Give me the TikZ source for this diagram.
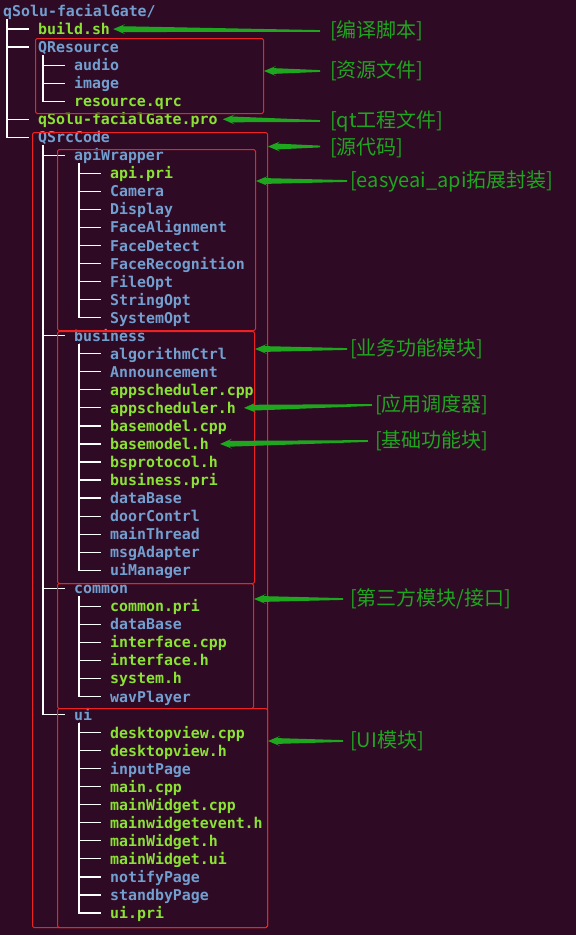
\documentclass[tikz,border=0pt]{standalone}
\usepackage{fontspec}
\setmonofont{DejaVu Sans Mono}
\newfontfamily\cjkfont{Noto Sans CJK SC}
\usetikzlibrary{arrows.meta, positioning, calc}
\definecolor{termbg}{HTML}{2E0A24}
\definecolor{dirblue}{HTML}{729FCF}
\definecolor{filegreen}{HTML}{8AE234}
\definecolor{boxred}{HTML}{EE2222}
\definecolor{notegreen}{HTML}{1FA61F}
% flecha afilada: cola fina, cabeza triangular
\newcommand{\taperarrow}[2]{%
  \coordinate (ta-tail) at (#1);
  \coordinate (ta-tip) at (#2);
  \coordinate (ta-head) at ($(ta-tip)!12pt!(ta-tail)$);
  \coordinate (ta-neck) at ($(ta-tip)!9pt!(ta-tail)$);
  \fill[notegreen] (ta-tip) -- ($(ta-head)!5pt!90:(ta-tail)$) -- ($(ta-neck)!2.9pt!90:(ta-tail)$)
    -- ($(ta-tail)!0.9pt!-90:(ta-tip)$) -- ($(ta-tail)!0.9pt!90:(ta-tip)$)
    -- ($(ta-neck)!2.9pt!-90:(ta-tail)$) -- ($(ta-head)!5pt!-90:(ta-tail)$) -- cycle;
}

\begin{document}
\begin{tikzpicture}[
    x=1pt, y=-1pt,
    entry/.style={anchor=west, inner sep=0pt, text height=11pt, text depth=0pt, font=\ttfamily\bfseries\fontsize{14.9}{18}\selectfont},
    dir/.style={entry, text=dirblue},
    file/.style={entry, text=filegreen},
    branch/.style={draw=white, line width=1.2pt},
    redbox/.style={draw=boxred, line width=1pt, rounded corners=1.5pt, inner sep=0pt, anchor=north west},
    note/.style={anchor=west, inner sep=0pt, text=notegreen, font=\cjkfont\fontsize{20}{24}\selectfont}
  ]
    % fondo terminal
    \fill[termbg] (0,0) rectangle (576,935);
    \useasboundingbox (0,0) rectangle (576,935);

    % raiz y primer nivel
    \node[dir] (root) at (3,11) {qSolu-facialGate/};
    \foreach \nm/\txt/\sty/\k in {build/build.sh/file/1, qres/QResource/dir/2, pro/qSolu-facialGate.pro/file/6, src/QSrcCode/dir/7} {
      \node[\sty] (\nm) at (38, {11+18.04*\k}) {\txt};
      \draw[branch] ([shift={(4pt,-8pt)}]root.west) |- ([xshift=-9pt]\nm.west);
    }

    % QResource
    \foreach \nm/\txt/\sty/\k in {audio/audio/dir/3, image/image/dir/4, qrc/resource.qrc/file/5} {
      \node[\sty] (\nm) at (74, {11+18.04*\k}) {\txt};
      \draw[branch] ([shift={(5pt,-8pt)}]qres.west) |- ([xshift=-9pt]\nm.west);
    }

    % QSrcCode
    \foreach \nm/\txt/\k in {api/apiWrapper/8, biz/business/18, com/common/32, ui/ui/39} {
      \node[dir] (\nm) at (74, {11+18.04*\k}) {\txt};
      \draw[branch] ([shift={(5pt,-8pt)}]src.west) |- ([xshift=-9pt]\nm.west);
    }

    % apiWrapper
    \foreach \nm/\txt/\sty [count=\k from 9] in {apiPri/api.pri/file, camera/Camera/dir, display/Display/dir,
        faceAlign/FaceAlignment/dir, faceDet/FaceDetect/dir, faceRec/FaceRecognition/dir,
        fileOpt/FileOpt/dir, strOpt/StringOpt/dir, sysOpt/SystemOpt/dir} {
      \node[\sty] (\nm) at (110, {11+18.04*\k}) {\txt};
      \draw[branch] ([shift={(5pt,-8pt)}]api.west) |- ([xshift=-9pt]\nm.west);
    }

    % business
    \foreach \nm/\txt/\sty [count=\k from 19] in {algo/algorithmCtrl/dir, announce/Announcement/dir,
        schCpp/appscheduler.cpp/file, schH/appscheduler.h/file, bmCpp/basemodel.cpp/file,
        bmH/basemodel.h/file, bsProto/bsprotocol.h/file, bizPri/business.pri/file,
        bizDb/dataBase/dir, door/doorContrl/dir, mainThr/mainThread/dir,
        msgAd/msgAdapter/dir, uiMgr/uiManager/dir} {
      \node[\sty] (\nm) at (110, {11+18.04*\k}) {\txt};
      \draw[branch] ([shift={(5pt,-8pt)}]biz.west) |- ([xshift=-9pt]\nm.west);
    }

    % common
    \foreach \nm/\txt/\sty [count=\k from 33] in {comPri/common.pri/file, comDb/dataBase/dir,
        ifCpp/interface.cpp/file, ifH/interface.h/file, sysH/system.h/file, wav/wavPlayer/dir} {
      \node[\sty] (\nm) at (110, {11+18.04*\k}) {\txt};
      \draw[branch] ([shift={(5pt,-8pt)}]com.west) |- ([xshift=-9pt]\nm.west);
    }

    % ui
    \foreach \nm/\txt/\sty [count=\k from 40] in {dvCpp/desktopview.cpp/file, dvH/desktopview.h/file,
        input/inputPage/dir, mainCpp/main.cpp/file, mwCpp/mainWidget.cpp/file,
        mwEv/mainwidgetevent.h/file, mwH/mainWidget.h/file, mwUi/mainWidget.ui/file,
        notify/notifyPage/dir, standby/standbyPage/dir, uiPri/ui.pri/file} {
      \node[\sty] (\nm) at (110, {11+18.04*\k}) {\txt};
      \draw[branch] ([shift={(5pt,-8pt)}]ui.west) |- ([xshift=-9pt]\nm.west);
    }

    % marcos rojos
    \node[redbox, minimum width=228pt, minimum height=75pt] (boxRes) at (35,38) {};
    \node[redbox, minimum width=235pt, minimum height=795pt] (boxSrc) at (32,132) {};
    \node[redbox, minimum width=198pt, minimum height=181pt] (boxApi) at (57,149) {};
    \node[redbox, minimum width=197pt, minimum height=252pt] (boxBiz) at (57,331) {};
    \node[redbox, minimum width=196pt, minimum height=125pt] (boxCom) at (57,583) {};
    \node[redbox, minimum width=210pt, minimum height=219pt] (boxUi) at (57,708) {};

    % notas
    \node[note] (lblBuild) at (330,31) {[编译脚本]};
    \node[note] (lblRes) at (330,71) {[资源文件]};
    \node[note] (lblPro) at (330,121) {[qt工程文件]};
    \node[note] (lblSrc) at (330,148) {[源代码]};
    \node[note] (lblApi) at (350,181) {[easyeai\_api拓展封装]};
    \node[note] (lblBiz) at (350,349) {[业务功能模块]};
    \node[note] (lblSch) at (375,405) {[应用调度器]};
    \node[note] (lblBase) at (375,441) {[基础功能块]};
    \node[note] (lblCom) at (350,599) {[第三方模块/接口]};
    \node[note] (lblUi) at (350,741) {[UI模块]};

    % flechas
    \taperarrow{[xshift=-10pt]lblBuild.west}{[xshift=3pt]build.east}
    \taperarrow{[xshift=-10pt]lblRes.west}{boxRes.east |- lblRes.west}
    \taperarrow{[xshift=-10pt]lblPro.west}{[xshift=5pt]pro.east}
    \taperarrow{[shift={(-10pt,1.5pt)}]lblSrc.west}{[yshift=1.5pt]boxSrc.east |- lblSrc.west}
    \taperarrow{[xshift=-3pt]lblApi.west}{boxApi.east |- lblApi.west}
    \taperarrow{[xshift=-3pt]lblBiz.west}{boxBiz.east |- lblBiz.west}
    \taperarrow{[xshift=-3pt]lblSch.west}{[xshift=8pt]schH.east}
    \taperarrow{[xshift=-7pt]lblBase.west}{[xshift=11pt]bmH.east}
    \taperarrow{[xshift=-7pt]lblCom.west}{boxCom.east |- lblCom.west}
    \taperarrow{[xshift=-7pt]lblUi.west}{boxUi.east |- lblUi.west}

  \end{tikzpicture}
\end{document}
